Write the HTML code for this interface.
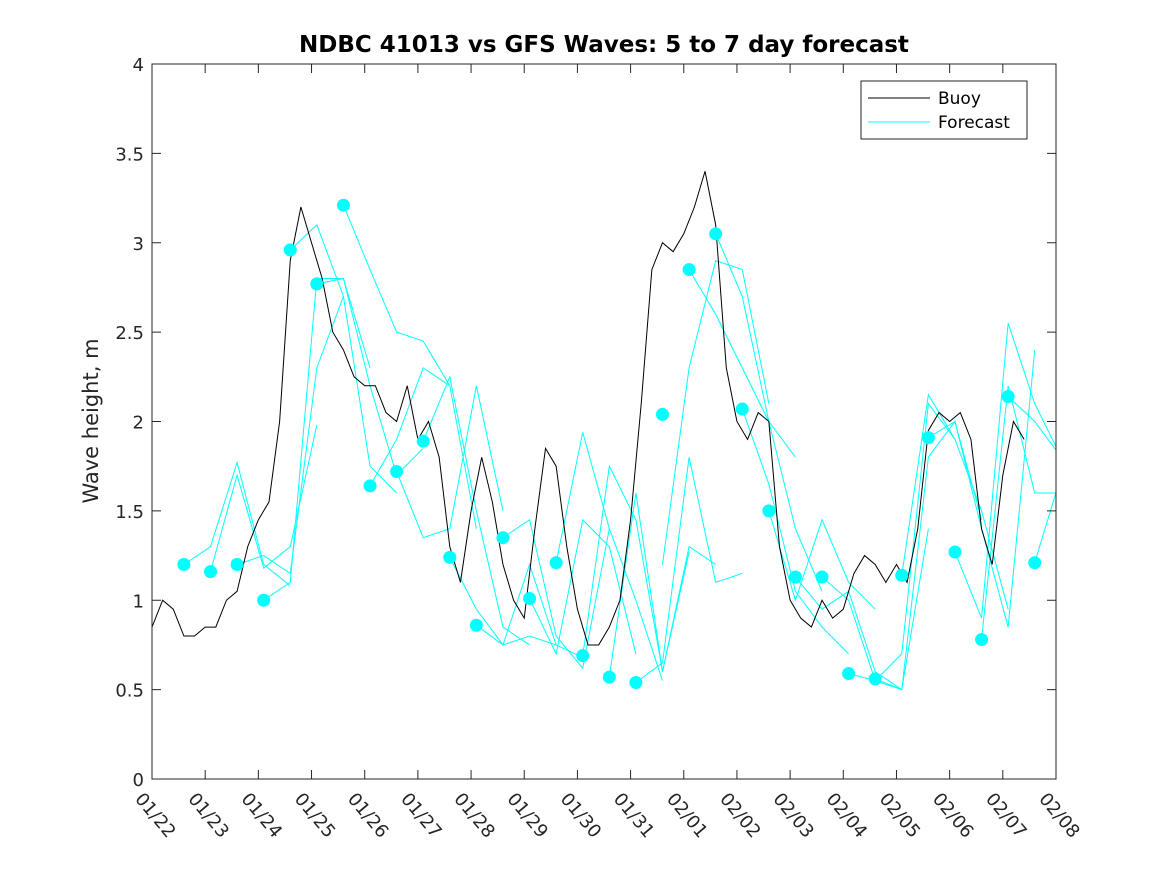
<!DOCTYPE html>
<html><head><meta charset="utf-8"><style>
html,body{margin:0;padding:0;background:#fff;}
svg{display:block;font-family:"DejaVu Sans","Liberation Sans",sans-serif;}
</style></head><body>
<svg id="chart" width="1167" height="875" viewBox="0 0 1167 875" xmlns="http://www.w3.org/2000/svg">
<rect x="0" y="0" width="1167" height="875" fill="#fff"/>
<text x="604" y="52" text-anchor="middle" font-size="23" font-weight="bold" fill="#000">NDBC 41013 vs GFS Waves: 5 to 7 day forecast</text>
<text transform="translate(98,421) rotate(-90)" text-anchor="middle" font-size="21" fill="#262626">Wave height, m</text>
<g id="plot"></g>
<g id="axes"></g>
<g>
<rect x="861" y="81" width="166" height="58" fill="#fff" stroke="#262626" stroke-width="1"/>
<line x1="868" y1="98" x2="930" y2="98" stroke="#000" stroke-width="1"/>
<text x="938" y="104" font-size="17" fill="#000">Buoy</text>
<line x1="868" y1="122" x2="930" y2="122" stroke="#00ffff" stroke-width="1"/>
<text x="938" y="128" font-size="17" fill="#000">Forecast</text>
</g>
</svg>
<script>
const xTickLabels=["01/22","01/23","01/24","01/25","01/26","01/27","01/28","01/29","01/30","01/31","02/01","02/02","02/03","02/04","02/05","02/06","02/07","02/08"];
const yTicks=[0,0.5,1,1.5,2,2.5,3,3.5,4];
const yTickLabels=["0","0.5","1","1.5","2","2.5","3","3.5","4"];
const buoyStep=0.2;
const buoyVals=[0.85,1.0,0.95,0.8,0.8,0.85,0.85,1.0,1.05,1.3,1.45,1.55,2.0,2.9,3.2,3.0,2.8,2.5,2.4,2.25,2.2,2.2,2.05,2.0,2.2,1.9,2.0,1.8,1.3,1.1,1.5,1.8,1.55,1.2,1.0,0.9,1.4,1.85,1.75,1.3,0.95,0.75,0.75,0.85,1.0,1.45,2.1,2.85,3.0,2.95,3.05,3.2,3.4,3.1,2.3,2.0,1.9,2.05,2.0,1.3,1.0,0.9,0.85,1.0,0.9,0.95,1.15,1.25,1.2,1.1,1.2,1.1,1.4,1.95,2.05,2.0,2.05,1.9,1.4,1.2,1.7,2.0,1.9];
const dotDays=[0.6,1.1,1.6,2.1,2.6,3.1,3.6,4.1,4.6,5.1,5.6,6.1,6.6,7.1,7.6,8.1,8.6,9.1,9.6,10.1,10.6,11.1,11.6,12.1,12.6,13.1,13.6,14.1,14.6,15.1,15.6,16.1,16.6];
const dotVals=[1.2,1.16,1.2,1.0,2.96,2.77,3.21,1.64,1.72,1.89,1.24,0.86,1.35,1.01,1.21,0.69,0.57,0.54,2.04,2.85,3.05,2.07,1.5,1.13,1.13,0.59,0.56,1.14,1.91,1.27,0.78,2.14,1.21];
const fcStep=0.5;
const fcSegments=[
[1.20,1.30,1.77,1.20,1.08],
[1.16,1.70,1.18,1.30,1.98],
[1.20,1.25,1.15,2.30,2.70],
[1.00,1.10,2.80,2.80,2.30],
[2.96,3.10,2.70,1.75,1.60],
[2.77,2.80,2.20,1.70,1.85],
[3.21,2.85,2.50,2.45,2.20],
[1.64,1.90,2.30,2.20,1.40],
[1.72,1.35,1.40,2.20,1.50],
[1.89,2.25,1.50,0.85,0.75],
[1.24,0.95,0.75,0.80,0.75],
[0.86,0.75,1.20,0.75,0.68],
[1.35,1.45,0.80,0.62,1.40],
[1.01,0.70,1.45,1.30,0.70],
[1.21,1.94,1.40,1.00,0.55],
[0.69,1.75,1.45,0.60,1.27],
[0.57,1.60,0.60,1.30,1.20],
[0.54,0.65,1.80,1.10,1.15],
[1.20,2.30,2.90,2.85,2.10],
[2.85,2.60,2.30,2.00,1.80],
[3.05,2.70,2.00,1.40,1.05],
[2.07,1.65,1.05,0.85,0.70],
[1.50,1.00,1.45,1.10,0.95],
[1.13,0.95,1.05,0.60,0.50],
[1.13,1.00,0.55,0.50,1.40],
[0.59,0.55,0.70,2.10,1.90],
[0.56,0.50,1.80,2.00,1.45],
[1.14,2.15,1.90,1.50,0.95],
[1.91,2.00,1.40,0.85,2.40],
[1.27,0.90,2.55,2.10,1.80],
[0.78,2.20,1.60,1.60,1.05],
[2.14,2.00,1.80,1.05],
[1.21,1.70]
];
const L=152,R=1056,T=64,B=779,xMax=17,yMax=4;
const xs=d=>L+(R-L)*d/xMax;
const ys=v=>B-(B-T)*v/yMax;
const NS="http://www.w3.org/2000/svg";
const plot=document.getElementById('plot');
const axes=document.getElementById('axes');
function mk(tag,attrs,parent){const e=document.createElementNS(NS,tag);for(const k in attrs)e.setAttribute(k,attrs[k]);parent.appendChild(e);return e;}
const cp=mk('clipPath',{id:'clip'},plot);
mk('rect',{x:L,y:T,width:R-L,height:B-T},cp);
const g=mk('g',{'clip-path':'url(#clip)'},plot);
fcSegments.forEach((seg,i)=>{
  const p=mk('polyline',{points:seg.map((v,j)=>xs(dotDays[i]+j*fcStep)+','+ys(v)).join(' '),fill:'none',stroke:'#00ffff','stroke-width':1},g);
  
  
});
const bl=mk('polyline',{points:buoyVals.map((v,i)=>xs(i*buoyStep)+','+ys(v)).join(' '),fill:'none',stroke:'#000','stroke-width':1},g);


dotVals.forEach((v,i)=>{
  const c=mk('circle',{cx:xs(dotDays[i]),cy:ys(v),r:6.5,fill:'#00ffff'},g);
  
  
});
mk('rect',{x:L,y:T,width:R-L,height:B-T,fill:'none',stroke:'#262626','stroke-width':1},axes);
yTicks.forEach((v,i)=>{
  const y=ys(v);
  mk('line',{x1:L,y1:y,x2:L+9,y2:y,stroke:'#262626'},axes);
  mk('line',{x1:R,y1:y,x2:R-9,y2:y,stroke:'#262626'},axes);
  const t=mk('text',{x:L-8,y:y+7,'text-anchor':'end','font-size':18,fill:'#262626'},axes);
  t.textContent=yTickLabels[i];
  
  
});
xTickLabels.forEach((lab,i)=>{
  const x=xs(i);
  mk('line',{x1:x,y1:B,x2:x,y2:B-9,stroke:'#262626'},axes);
  mk('line',{x1:x,y1:T,x2:x,y2:T+9,stroke:'#262626'},axes);
  const t=mk('text',{transform:'translate('+(x-8)+','+(B+12)+') rotate(50)','font-size':18,fill:'#262626','dominant-baseline':'hanging'},axes);
  t.textContent=lab;
  
  
});
</script>
</body></html>
